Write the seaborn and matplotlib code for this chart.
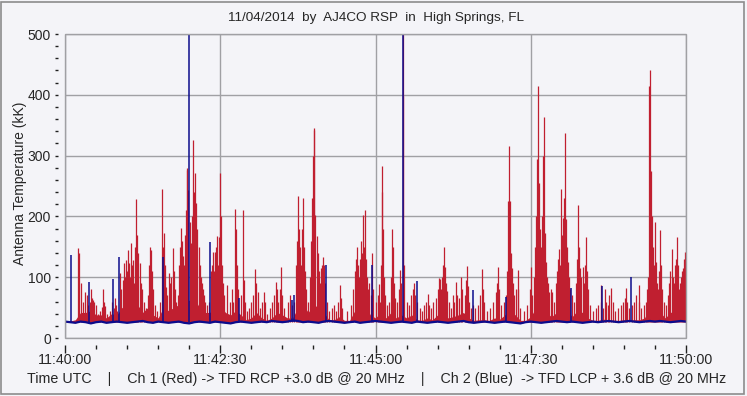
import numpy as np
import pandas as pd
import matplotlib
matplotlib.use("Agg")
import matplotlib.pyplot as plt
from matplotlib.patches import Rectangle
from matplotlib.ticker import MultipleLocator
import seaborn as sns

# -----------------------------
# DATA (seconds after 11:40:00 UTC, antenna temperature in kK)
# -----------------------------

tick_secs = [0, 150, 300, 450, 600]
tick_labels = ["11:40:00", "11:42:30", "11:45:00", "11:47:30", "11:50:00"]

# Ch 2 (blue) quiet level, one value every 5 s
blue_level = [27, 26, 25, 27, 26, 24, 26, 27, 25, 26, 27, 26, 25, 26, 27, 28, 26, 25, 27, 26,
              25, 26, 27, 25, 24, 26, 27, 26, 25, 27, 26, 25, 24, 26, 27, 26, 25, 26, 27, 26,
              28, 27, 26, 27, 29, 28, 26, 27, 26, 25, 27, 28, 27, 26, 25, 26, 27, 25, 26, 27,
              28, 27, 26, 25, 26, 27, 26, 25, 27, 26, 25, 26, 27, 26, 25, 26, 27, 28, 26, 25,
              26, 27, 26, 25, 26, 27, 26, 25, 24, 26, 27, 26, 25, 26, 27, 28, 27, 26, 27, 26,
              25, 26, 27, 26, 27, 28, 27, 26, 27, 28, 27, 26, 27, 28, 27, 28, 27, 26, 27, 28, 27]

# Ch 2 (blue) spikes
blue_spike_t = [6, 23, 46, 52, 95, 120, 140, 168, 219, 221, 252, 297, 326.5, 340, 394,
                426, 489, 519, 546.5]
blue_spike_v = [136, 92, 97, 133, 133, 500, 158, 65, 62, 70, 120, 120, 500, 93, 79,
                68, 82, 85, 101]

# Ch 1 (red) floor of the bursts, one value every 5 s
red_floor = [28, 28, 30, 42, 42, 45, 38, 38, 33, 40, 38, 50, 55, 58, 55, 42, 50, 38, 33, 50,
             45, 50, 55, 62, 62, 65, 50, 42, 42, 55, 55, 42, 38, 45, 38, 30, 33, 42, 33, 29,
             33, 42, 38, 33, 33, 50, 55, 42, 55, 50, 42, 30, 30, 35, 29, 29, 45, 50, 55, 38,
             33, 42, 33, 42, 33, 38, 33, 38, 30, 29, 33, 30, 38, 45, 33, 35, 38, 42, 33, 29,
             30, 30, 29, 33, 31, 38, 45, 38, 29, 29, 35, 50, 55, 42, 35, 42, 55, 45, 35, 45,
             42, 33, 29, 29, 31, 30, 29, 29, 30, 29, 30, 30, 33, 50, 45, 42, 33, 42, 45, 42, 42]

# Ch 1 (red) spikes: (time, peak)
red_spikes = [
    (13, 148), (14, 140), (15, 90), (17, 60), (19, 76), (21, 70), (22, 55), (24, 60), (25, 80),
    (26, 66), (27, 62), (28, 60), (30, 55), (32, 40),
    (34, 45), (36, 51), (37, 81), (38, 60), (39, 53), (41, 40), (43, 45), (45, 60), (47, 50),
    (48, 66), (49, 55), (50, 45),
    (53, 107), (54, 80), (56, 95), (57, 123), (58, 100), (59, 128), (60, 110), (61, 145),
    (62, 123), (63, 100), (64, 156), (65, 120), (66, 128), (67, 90), (68, 150), (69, 229),
    (70, 170), (71, 140), (72, 123), (73, 90), (74, 80), (76, 60), (78, 50), (80, 70),
    (81, 120), (82, 150), (83, 145), (84, 110), (85, 80), (87, 55), (89, 45),
    (92, 60), (94, 245), (95, 150), (96, 172), (97, 120), (98, 84), (99, 70), (100, 107),
    (101, 90), (102, 100), (104, 148), (105, 110), (106, 80), (107, 60), (109, 70), (110, 120),
    (111, 150), (112, 181), (113, 160), (114, 135), (115, 120), (116, 170), (117, 210),
    (117.5, 280), (118, 276), (119, 243), (121, 190), (122, 156), (123, 200), (124, 325),
    (125, 240), (126, 271), (127, 222), (128, 180), (129, 150), (130, 120), (131, 100),
    (132, 90), (133, 80), (134, 70), (135, 60), (137, 55), (139, 60), (141, 110), (142, 120),
    (143, 141), (144, 110), (145, 142), (146, 150), (147, 167), (148, 120), (149, 166),
    (150, 272), (151, 200), (152, 120), (153, 90), (154, 70),
    (157, 87), (159, 60), (161, 80), (162, 60), (164, 212), (165, 180), (166, 120), (167, 80),
    (170, 70), (172, 210), (173, 95), (174, 60), (176, 45), (178, 50), (180, 60), (182, 70),
    (184, 113), (185, 90), (186, 75), (188, 50), (190, 60), (192, 75), (193, 60), (195, 40),
    (198, 50), (200, 60), (202, 70), (204, 92), (205, 80), (206, 60), (208, 80), (209, 117),
    (210, 70), (212, 50), (215, 60), (217, 70), (219, 55), (221, 60), (223, 120), (224, 160),
    (225, 233), (226, 180), (227, 150), (228, 120), (229, 180), (230, 230), (231, 150),
    (232, 110), (233, 80), (235, 60), (237, 100), (238, 160), (239, 230), (240, 300),
    (240.5, 342), (241, 345), (242, 202), (243, 168), (244, 140), (245, 110), (246, 90),
    (247, 115), (248, 120), (249, 134), (250, 120), (251, 90), (253, 60),
    (255, 45), (258, 50), (260, 55), (262, 45), (264, 60), (266, 87), (267, 65), (268, 50),
    (272, 45), (276, 55), (278, 80), (280, 110), (281, 130), (282, 150), (283, 120), (284, 100),
    (285, 130), (286, 160), (287, 140), (288, 202), (289, 150), (290, 210), (291, 130),
    (292, 100), (293, 80), (294, 90), (296, 70), (297, 139), (298, 80), (300, 60),
    (302, 70), (303, 88), (304, 60), (305, 120), (306, 240), (306.5, 283), (307, 180),
    (308, 100), (309, 70), (311, 55), (313, 60), (315, 100), (316, 179), (317, 150), (318, 90),
    (319, 65), (321, 60), (323, 80), (324, 112), (325, 90), (326.5, 500), (327, 398),
    (328, 120), (330, 60),
    (332, 55), (334, 70), (336, 80), (337, 90), (338, 70), (340, 60), (343, 50), (345, 45),
    (347, 55), (349, 60), (351, 72), (352, 55), (354, 50), (356, 60), (358, 65), (360, 80),
    (361, 99), (362, 97), (363, 80), (364, 100), (365, 120), (366, 149), (367, 117), (368, 90),
    (369, 78), (371, 60), (373, 50),
    (375, 70), (376, 60), (378, 92), (379, 70), (381, 65), (383, 101), (384, 80), (386, 70),
    (387, 95), (388, 118), (389, 85), (390, 60), (392, 50), (394, 55), (396, 50), (399, 55),
    (401, 70), (403, 113), (404, 80), (405, 60), (408, 45), (411, 50), (414, 60), (416, 75),
    (417, 90), (418.5, 116), (419, 80), (421, 55), (424, 60), (426, 70), (427, 110), (428, 225),
    (429, 315), (430, 225), (431, 140), (432, 115), (433, 90), (434, 70),
    (436, 80), (437.5, 112), (438, 80), (440, 50), (443, 45), (446, 55), (449, 80), (450, 116),
    (451, 70), (453, 100), (454, 150), (455, 200), (456, 294), (457, 414), (458, 255),
    (459, 180), (460, 150), (461, 200), (462, 300), (463, 363), (464, 172), (465, 125),
    (466, 100), (467, 90), (468, 75), (470, 80), (471, 76), (472, 60), (474, 90), (475, 110),
    (476, 130), (477, 146), (478, 120), (479, 245), (480, 170), (481, 197), (482, 230),
    (483, 337), (484, 195), (485, 150), (486, 125), (487, 100), (488, 80), (490, 70), (492, 60),
    (494, 90), (495, 130), (496, 219), (497, 150), (498, 115), (499, 100), (500, 117),
    (501, 90), (502, 120), (503, 166), (504, 110), (505, 80), (507, 55),
    (510, 45), (513, 50), (515, 55), (517.5, 87), (518, 60), (520, 50), (522, 80), (523, 60),
    (525, 55), (526, 70), (528, 82), (529, 60), (531, 45), (534, 50), (537, 55), (539, 60),
    (541, 65), (542, 82), (543, 60), (545, 50), (548, 55), (550, 60), (552, 70), (554.5, 87),
    (555, 60), (557, 50), (559, 55),
    (561, 60), (562, 80), (563, 100), (564, 414), (565, 440), (566, 274), (567, 200), (568, 150),
    (569, 120), (570, 191), (571, 125), (572, 90), (573, 80), (574, 110), (575, 177), (576, 120),
    (577, 80), (579, 60), (581, 55), (583, 70), (584, 90), (585, 110), (586, 146), (587, 100),
    (588, 90), (589, 120), (590, 130), (591, 166), (592, 120), (593, 80), (594, 90), (595, 100),
    (596, 110), (597, 115), (598, 130), (599, 142), (600, 120),
]

RED = "#c01f30"
BLUE = "#0c0c8c"
GRID = "#a0a0a4"
BG = "#f4f4f8"

# -----------------------------
# FIGURE
# -----------------------------

sns.set_style("white", {"axes.facecolor": BG, "figure.facecolor": BG,
                        "xtick.bottom": True, "ytick.left": True})
plt.rcParams["font.family"] = ["Liberation Sans", "DejaVu Sans"]
plt.rcParams["font.size"] = 10

fig = plt.figure(figsize=(7.47, 3.96), dpi=100)
ax = fig.add_axes([65 / 747, 1 - 338 / 396, 621 / 747, 304 / 396])

secs5 = np.arange(len(blue_level)) * 5
red = pd.DataFrame(red_spikes, columns=["t", "v"])
level = pd.DataFrame({"t": secs5, "blue": blue_level, "red": red_floor})

# red channel
ax.fill_between(level["t"], level["blue"], level["red"], color=RED, lw=0, zorder=2)
ax.vlines(red["t"], 26, red["v"], color=RED, lw=0.9, zorder=3)

# blue channel
ax.vlines(blue_spike_t, 26, blue_spike_v, color=BLUE, lw=1.1, zorder=5)
sns.lineplot(data=level, x="t", y="blue", color=BLUE, lw=1.6, ax=ax, zorder=5)

ax.set_xlim(0, 600)
ax.set_ylim(0, 500)
ax.set_xticks(tick_secs)
ax.set_xticklabels(tick_labels)
ax.xaxis.set_minor_locator(MultipleLocator(30))
ax.set_yticks(range(0, 501, 100))
ax.yaxis.set_minor_locator(MultipleLocator(20))
ax.grid(True, which="major", color=GRID, lw=1, zorder=1)

for side in ["left", "bottom"]:
    ax.spines[side].set_position(("outward", 5))
for side in ax.spines:
    ax.spines[side].set_visible(False)
ax.add_patch(Rectangle((0, 0), 1, 1, transform=ax.transAxes, fill=False,
                       ec=GRID, lw=1, zorder=6, clip_on=False))

ax.tick_params(axis="x", which="major", bottom=True, direction="out", length=6, width=1,
               color="#202020", pad=0, labelsize=10.3)
ax.tick_params(axis="x", which="minor", bottom=True, direction="out", length=3, width=1,
               color="#202020")
ax.tick_params(axis="y", which="major", left=True, direction="out", length=2, width=1,
               color="#202020", pad=3, labelsize=10)
ax.tick_params(axis="y", which="minor", left=True, direction="out", length=2, width=1,
               color="#202020")

ax.set_xlabel("")
ax.set_ylabel("")
fig.text(376 / 747, 1 - 18 / 396, "11/04/2014  by  AJ4CO RSP  in  High Springs, FL",
         ha="center", va="center", fontsize=9.7)
fig.text(377 / 747, 1 - 379 / 396,
         "Time UTC    |    Ch 1 (Red) -> TFD RCP +3.0 dB @ 20 MHz    |    "
         "Ch 2 (Blue)  -> TFD LCP + 3.6 dB @ 20 MHz", ha="center", va="center", fontsize=10.3)
fig.text(20 / 747, 1 - 183 / 396, "Antenna Temperature (kK)", rotation=90,
         ha="center", va="center", fontsize=10)

fig.add_artist(Rectangle((0.002, 0.006), 0.994, 0.988, transform=fig.transFigure,
                         fill=False, ec="#8c8c8c", lw=1.2))

plt.savefig("out.png", dpi=100, facecolor=BG)
